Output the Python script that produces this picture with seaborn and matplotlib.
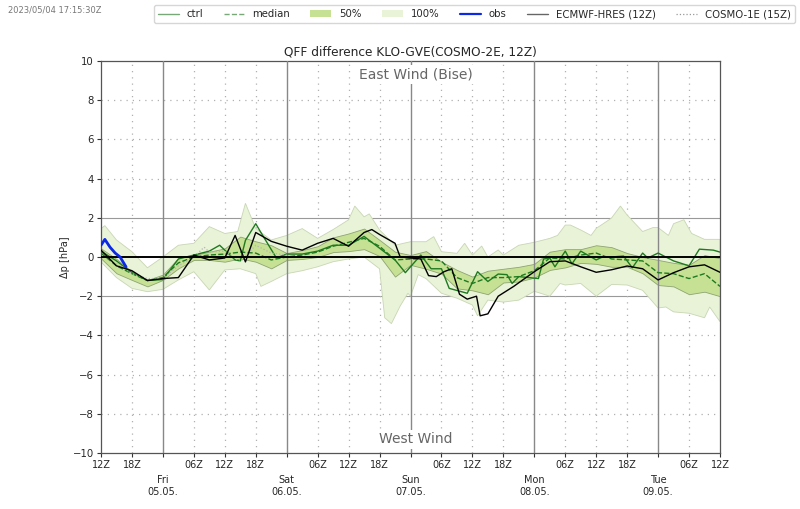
import pandas as pd
import matplotlib
matplotlib.use("Agg")
import matplotlib.pyplot as plt
import seaborn as sns
from matplotlib.patches import Patch
from matplotlib.lines import Line2D

# lead time [h] after 04.05. 12Z
hours = list(range(0, 123, 3))

upper100_hours = [0, .75, 3, 6, 9, 12, 15, 18, 21, 24, 26.5, 28, 30, 33, 36, 39, 42, 45, 48, 49.2, 51, 52, 54, 57, 60,
                  63, 64.5, 66, 69, 70.5, 72, 73.8, 75, 77, 78, 81, 84, 87, 88.5, 90, 91, 93, 95, 96, 98.5, 99, 100.7,
                  102, 105, 107, 108, 110, 111, 113, 114.5, 117, 120]
upper100 = [1.45, 1.6, .87, .27, -.55, 0, .6, .7, 1.55, 1.2, 1.3, 2.74, 1.45, .87, 1.1, 1.45, .95, 1.4, 1.9, 2.6, 2.05,
            2.2, 1.38, .6, .78, .78, 1.04, .27, .19, .7, .1, .56, 0, .36, .1, .6, .75, .95, 1.1, 1.63, 1.63, 1.38, 1.1,
            1.46, 1.9, 2.0, 2.6, 2.14, 1.3, 1.5, 1.5, 1.1, 1.7, 1.9, 1.2, .9, .9]
lower100_hours = [0, 3, 6, 9, 12, 15, 18, 21, 24, 27, 30, 31, 33, 36, 39, 42, 45, 48, 51, 54, 55, 56.3, 58, 59.5, 60,
                  61.5, 63, 66, 69, 72, 73, 75, 78, 81, 84, 87, 89, 90, 93, 96, 99, 102, 105, 108, 109.5, 111, 114, 117,
                  118, 120]
lower100 = [-.25, -1.05, -1.6, -1.77, -1.65, -1.17, -.75, -1.68, -.66, -.6, -.85, -1.5, -1.25, -.85, -.7, -.5, -.24,
            -.1, 0, -.6, -3.1, -3.4, -2.5, -1.85, -2.0, -.9, -1.1, -1.85, -2.1, -2.45, -3.0, -2.2, -2.3, -2.2, -1.75,
            -2.0, -1.35, -1.43, -1.35, -2.0, -1.4, -1.43, -1.7, -2.6, -2.55, -2.8, -2.87, -3.1, -2.55, -3.3]
upper50 = [.44, -.1, -.75, -1.17, -.9, -.05, .1, .27, .44, 1.04, .8, .6, .2, .35, .55, 1.0, 1.2, 1.45, .87, .27, .1,
           .3, -.24, -.66, -1.0, -.7, -.6, -.5, -.35, .27, .4, .4, .6, .5, .2, 0, -.15, -.3, -.4, .1, -.07]
lower50 = [-.07, -.83, -1.17, -1.5, -1.17, -.58, -.15, -.15, -.24, -.07, -.24, -.58, -.15, -.1, 0, .25, .3, .4, .05,
           -1.0, -.4, -.6, -.85, -1.6, -1.7, -1.9, -1.3, -1.25, -1.05, -.66, -.53, -.3, -.35, -.5, -.5, -.83, -1.43,
           -1.5, -1.9, -1.77, -2.0]
median = [.2, -.45, -.85, -1.2, -1.05, -.3, 0, .1, .15, .25, .2, -.15, 0, .1, .25, .55, .75, .95, .55, -.15, -.1, -.1,
          -.2, -1.05, -1.35, -1.05, -1.05, -1.0, -.7, -.05, -.1, .1, .2, -.1, -.15, -.2, -.8, -.85, -1.1, -.85, -1.5]

ctrl_hours = [0, 3, 6, 9, 12, 15, 18, 21, 23, 26, 27, 28, 30, 31, 34, 36, 39, 42, 45, 48, 51, 54, 57, 59, 60, 62, 64,
              66, 67.5, 71, 73, 75, 77, 78.7, 79.7, 81, 84.8, 85.8, 87, 88, 90, 91.3, 93, 96, 97.2, 99, 101.3, 103, 105,
              106, 108, 111, 114, 116, 118.7, 120]
ctrl = [.3, -.2, -.8, -1.2, -1.15, -.1, .1, .3, .6, -.15, -.2, .85, 1.7, 1.25, -.05, .15, .15, .3, .6, .6, 1.05, .45,
        -.15, -.8, -.5, .1, -.6, -.6, -1.6, -1.85, -.75, -1.25, -.87, -.9, -1.35, -1.0, -1.1, -.1, -.05, -.5, .3, -.35,
        .3, -.15, 0, 0, .05, -.55, .2, -.05, .2, -.2, -.45, .4, .35, .25]

hres_hours = [0, 3, 6, 9, 12, 15, 18, 21, 24, 26, 28, 30, 33, 36, 39, 42, 45, 48, 51, 52.5, 54, 57, 58, 60, 62, 63.5,
              65, 66.5, 68, 69.5, 71, 72.8, 73.5, 75, 77, 80, 84, 87, 90, 93, 96, 99, 102, 105, 108, 111, 114, 117, 120]
hres = [.35, -.45, -.7, -1.2, -1.1, -1.05, .1, -.15, -.05, 1.1, -.25, 1.25, .8, .55, .35, .7, .95, .55, 1.25, 1.4,
        1.15, .7, 0, -.05, -.1, -.95, -1.0, -.75, -.6, -1.9, -2.15, -2.0, -3.0, -2.9, -2.0, -1.5, -.75, -.24, -.2,
        -.5, -.78, -.65, -.46, -.6, -1.17, -.8, -.5, -.4, -.78]

cosmo1_hours = [3, 6, 9, 12, 15, 18, 20, 21, 24, 27, 30, 33, 36]
cosmo1 = [-.3, -.85, -1.1, -1.1, -.45, 0, .5, .25, .3, -.25, .6, .2, .1]

obs_hours = [0, .75, 1.75, 2.75, 3.7, 4.85]
obs = [.6, .9, .5, .2, 0, -.5]

dotted_hours = [6, 18, 24, 30, 42, 48, 54, 66, 72, 78, 90, 96, 102, 114]
day_hours = [12, 36, 60, 84, 108]
day_labels = ["Fri\n05.05.", "Sat\n06.05.", "Sun\n07.05.", "Mon\n08.05.", "Tue\n09.05."]
hour_ticks = [0, 6, 18, 24, 30, 42, 48, 54, 66, 72, 78, 90, 96, 102, 114, 120]
hour_labels = ["12Z", "18Z", "06Z", "12Z", "18Z", "06Z", "12Z", "18Z", "06Z", "12Z", "18Z", "06Z", "12Z", "18Z", "06Z", "12Z"]
y_ticks = [-10, -8, -6, -4, -2, 0, 2, 4, 6, 8, 10]

sns.set_style("white")
plt.rcParams["font.family"] = "DejaVu Sans"

fig = plt.figure(figsize=(8, 5.09), dpi=100)
ax = fig.add_axes([101 / 800, 1 - 453 / 509, 619 / 800, 392 / 509])

col50 = "#c6e193"
col100 = "#e8f3d8"
ax.fill(upper100_hours + lower100_hours[::-1], upper100 + lower100[::-1], fc=col100, ec="#c9d6b4", lw=0.6, zorder=1)
ax.fill_between(hours, lower50, upper50, color=col50, ec="#8fa374", lw=0.6, zorder=2)

df = pd.DataFrame({"h": hours, "median": median})
sns.lineplot(x=ctrl_hours, y=ctrl, color="#1f7a1f", lw=1.0, errorbar=None, ax=ax, zorder=4)
sns.lineplot(data=df, x="h", y="median", color="#1f7a1f", lw=1.0, ls="--", errorbar=None, ax=ax, zorder=4)
sns.lineplot(x=cosmo1_hours, y=cosmo1, color="#b5b5b5", lw=0.9, ls=":", errorbar=None, ax=ax, zorder=4)
sns.lineplot(x=hres_hours, y=hres, color="black", lw=1.0, errorbar=None, ax=ax, zorder=5)
sns.lineplot(x=obs_hours, y=obs, color="#0a28e6", lw=2.0, errorbar=None, ax=ax, zorder=6)

ax.axhline(0, color="black", lw=1.4, zorder=5)
for v in [-2, 2]:
    ax.axhline(v, color="#999999", lw=0.8, zorder=0)
for v in [-8, -6, -4, 4, 6, 8]:
    ax.axhline(v, color="#b0b0b0", lw=0.9, ls=(0, (1, 4)), zorder=0)
for h in day_hours:
    ax.axvline(h, color="#888888", lw=1.0, zorder=3)
for h in dotted_hours:
    ax.axvline(h, color="#b0b0b0", lw=0.9, ls=(0, (1, 4)), zorder=0)

ax.set_xlim(0, 120)
ax.set_ylim(-10, 10)
ax.set_yticks(y_ticks)
ax.set_yticklabels([str(v).replace("-", "\u2212") for v in y_ticks])
ax.set_xticks(day_hours)
ax.set_xticklabels(day_labels)
ax.set_xticks(hour_ticks, minor=True)
ax.set_xticklabels(hour_labels, minor=True)
ax.tick_params(axis="x", which="minor", labelsize=7, length=3, width=0.8, pad=2, color="#333333", bottom=True)
ax.tick_params(axis="x", which="major", labelsize=7, length=3, width=0.8, pad=13, color="#333333", bottom=True)
ax.tick_params(axis="y", labelsize=7.3, length=3, width=0.8, pad=2, left=True, color="#333333")
ax.set_xlabel("")
ax.set_ylabel("\u0394p [hPa]", fontsize=7, labelpad=2)
ax.set_title("QFF difference KLO-GVE(COSMO-2E, 12Z)", fontsize=8.7, pad=4)
for s in ax.spines.values():
    s.set_color("#555555")
    s.set_linewidth(0.9)

wind_box = dict(fc="white", ec="none", pad=2)
ax.text(61, 9.3, "East Wind (Bise)", color="#666666", fontsize=10, ha="center", va="center", bbox=wind_box, zorder=6)
ax.text(61, -9.3, "West Wind", color="#666666", fontsize=10, ha="center", va="center", bbox=wind_box, zorder=6)

fig.text(8 / 800, 1 - 10 / 509, "2023/05/04 17:15:30Z", fontsize=6, color="#777777", va="center")

handles = [
    Line2D([], [], color="#1f6f1f", lw=1.0, alpha=0.6),
    Line2D([], [], color="#1f6f1f", lw=1.0, ls="--", alpha=0.6),
    Patch(fc=col50, ec="none"),
    Patch(fc=col100, ec="none"),
    Line2D([], [], color="#0a28e6", lw=1.6),
    Line2D([], [], color="black", lw=1.0, alpha=0.6),
    Line2D([], [], color="#999999", lw=0.9, ls=":"),
]
labels = ["ctrl", "median", "50%", "100%", "obs", "ECMWF-HRES (12Z)", "COSMO-1E (15Z)"]
fig.legend(handles, labels, loc="upper right", bbox_to_anchor=(795 / 800, 1 - 5 / 509), ncol=7, fontsize=7.3,
           frameon=True, borderaxespad=0, handlelength=2.05, columnspacing=2.0, handletextpad=0.8, borderpad=0.4)

fig.savefig("out.png", dpi=100)
